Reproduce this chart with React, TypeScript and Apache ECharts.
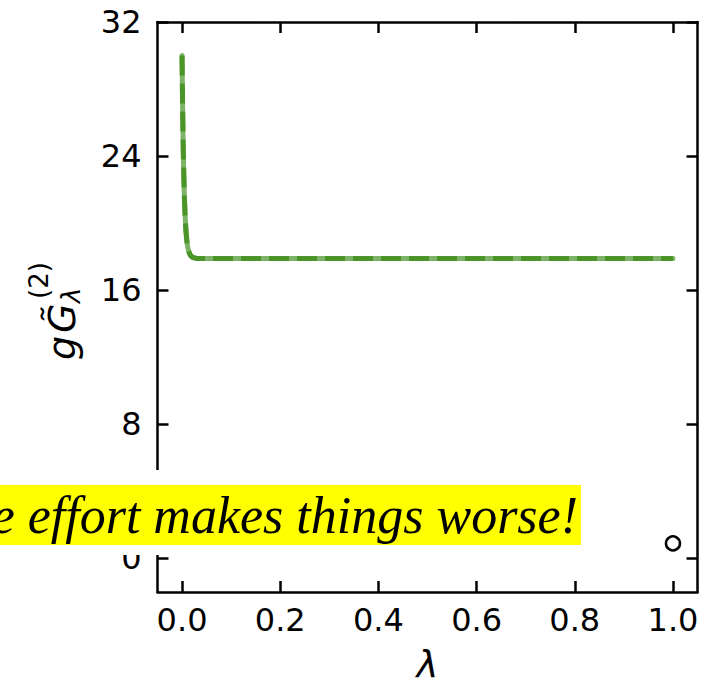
import React, { useEffect, useRef } from "react";
import * as echarts from "echarts";

const lambdaVals = [0, 0.001, 0.002, 0.003, 0.004, 0.005, 0.006, 0.008, 0.010, 0.012, 0.015, 0.018, 0.022, 0.03, 0.05, 0.1, 0.2, 0.3, 0.4, 0.5, 0.6, 0.7, 0.8, 0.9, 1.0];
const gVals = [30.0, 27.3, 25.2, 23.6, 22.4, 21.4, 20.6, 19.5, 18.9, 18.5, 18.2, 18.05, 17.95, 17.9, 17.9, 17.9, 17.9, 17.9, 17.9, 17.9, 17.9, 17.9, 17.9, 17.9, 17.9];
const markerPoint = [1.0, 0.9];
const xTicks = [0, 0.2, 0.4, 0.6, 0.8, 1.0];
const yTicks = [0, 8, 16, 24, 32];
const annotation = "e effort makes things worse!";

export default function App() {
  const ref = useRef<HTMLDivElement>(null);
  useEffect(() => {
    if (!ref.current) return;
    const chart = echarts.init(ref.current, null, { renderer: "svg" });
    const lineData = lambdaVals.map((x, i) => [x, gVals[i]]);
    const font = "DejaVu Sans";
    const axisLine = { show: true, onZero: false, lineStyle: { color: "#000", width: 2.5 } };
    const tickStyle = { show: true, inside: true, length: 11, lineStyle: { color: "#000", width: 2.5 } };
    const left = 157.5, right = 697.5, top = 22, bottom = 592;
    const F = 38, f = 26;
    const midMain = -0.346 * F, midSub = -0.346 * f;
    chart.setOption({
      animation: false,
      backgroundColor: "#fff",
      grid: { left, right: 708 - right, top, bottom: 689 - bottom },
      xAxis: [
        {
          type: "value", min: -0.05, max: 1.05, position: "bottom",
          axisLine, splitLine: { show: false },
          axisTick: { ...tickStyle, customValues: xTicks },
          axisLabel: { customValues: xTicks, formatter: (v: number) => v.toFixed(1), fontFamily: font, fontSize: 32, color: "#000", margin: 12 },
          name: "λ", nameLocation: "middle", nameGap: 54,
          nameTextStyle: { fontFamily: font, fontStyle: "italic", fontSize: 37, color: "#000" },
        },
        {
          type: "value", min: -0.05, max: 1.05, position: "top",
          axisLine, splitLine: { show: false },
          axisTick: { ...tickStyle, customValues: xTicks },
          axisLabel: { show: false },
        },
      ],
      yAxis: [
        {
          type: "value", min: -2, max: 32, position: "left",
          axisLine, splitLine: { show: false },
          axisTick: { ...tickStyle, customValues: yTicks },
          axisLabel: { customValues: yTicks, fontFamily: font, fontSize: 32, color: "#000", margin: 16 },
        },
        {
          type: "value", min: -2, max: 32, position: "right",
          axisLine, splitLine: { show: false },
          axisTick: { ...tickStyle, customValues: yTicks },
          axisLabel: { show: false },
        },
      ],
      series: [
        {
          type: "line", data: lineData, showSymbol: false, silent: true,
          lineStyle: { color: "#7db366", width: 5, cap: "round", join: "round" },
          z: 2,
        },
        {
          type: "line", data: lineData, showSymbol: false, silent: true,
          lineStyle: { color: "#4b9528", width: 5, type: [20, 8], join: "round" },
          z: 3,
        },
        {
          type: "scatter", data: [markerPoint], symbol: "circle", symbolSize: 14, silent: true,
          itemStyle: { color: "#fff", borderColor: "#000", borderWidth: 2.5, opacity: 1 },
          z: 4,
        },
      ],
      graphic: [
        {
          type: "group", x: 75, y: 360, rotation: Math.PI / 2, z: 10,
          children: [
            { type: "text", x: 0, y: midMain, style: { text: "g", fontFamily: font, fontStyle: "italic", fontSize: F, fill: "#000", verticalAlign: "middle" } },
            { type: "text", x: 27, y: midMain, style: { text: "G\u0303", fontFamily: font, fontStyle: "italic", fontSize: F, fill: "#000", verticalAlign: "middle" } },
            { type: "text", x: 57, y: 5 + midSub, style: { text: "λ", fontFamily: font, fontStyle: "italic", fontSize: f, fill: "#000", verticalAlign: "middle" } },
            { type: "text", x: 61, y: -27 + midSub, style: { text: "(2)", fontFamily: font, fontSize: f, fill: "#000", verticalAlign: "middle" } },
          ],
        },
        {
          type: "rect", z: 19, shape: { x: 0, y: 470, width: 595, height: 85 },
          style: { fill: "#ffffff" },
        },
        {
          type: "rect", z: 20, shape: { x: 0, y: 485, width: 581, height: 60 },
          style: { fill: "#ffff00" },
        },
        {
          type: "text", z: 21, x: 578, y: 515,
          style: { text: annotation, fontFamily: "Liberation Serif", fontStyle: "italic", fontSize: 52, fill: "#000", align: "right", verticalAlign: "middle" },
        },
      ],
    });
    return () => chart.dispose();
  }, []);
  return <div ref={ref} style={{ position: "fixed", left: 0, top: 0, width: 708, height: 689 }} />;
}
